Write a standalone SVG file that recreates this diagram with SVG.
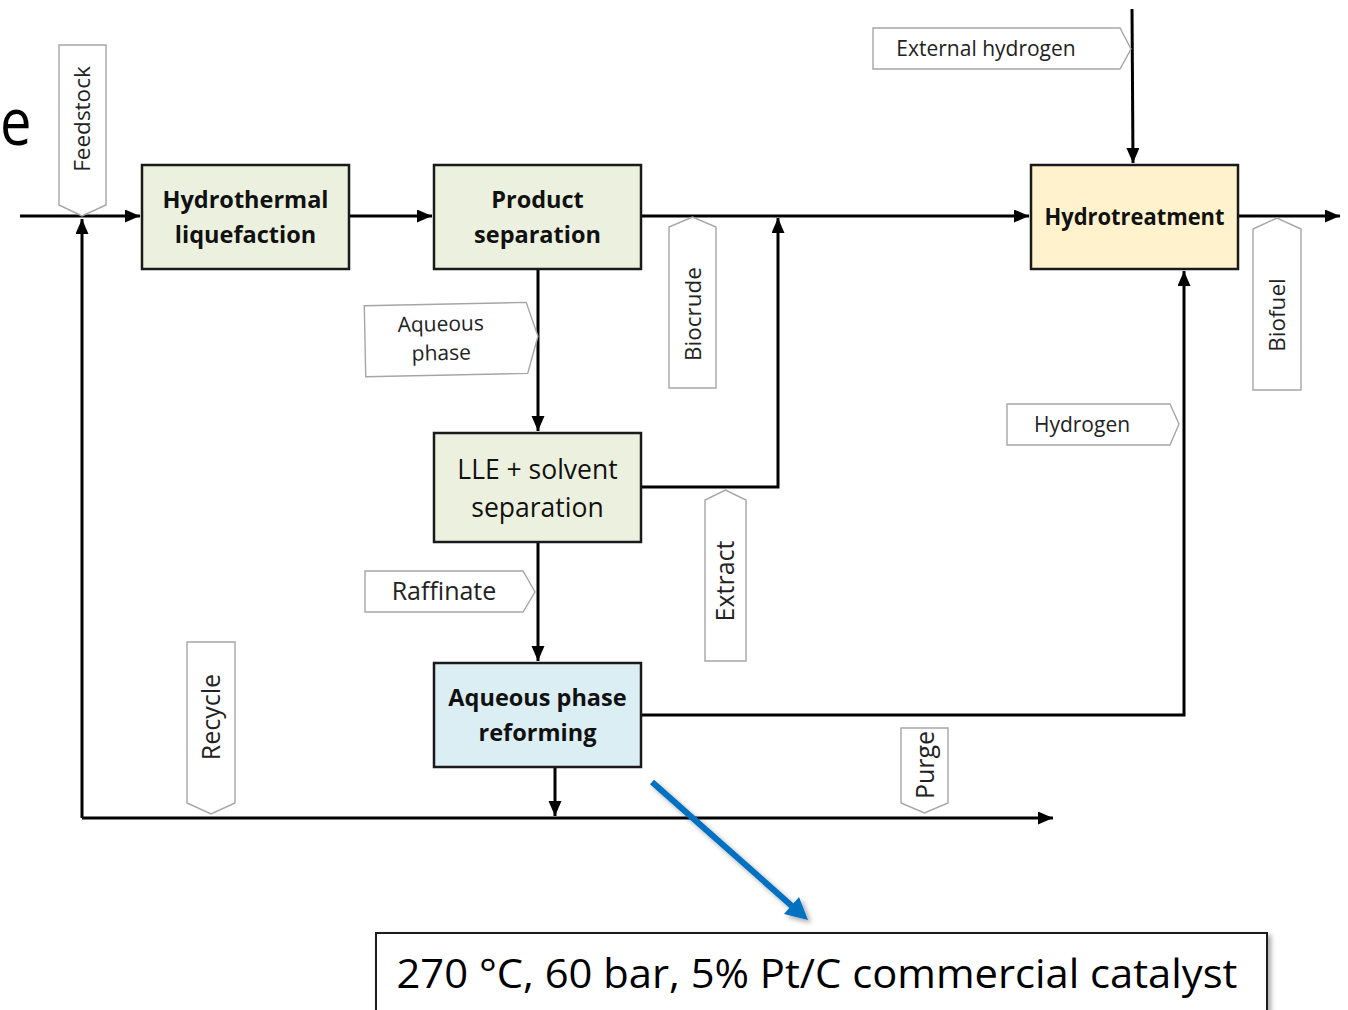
<svg xmlns="http://www.w3.org/2000/svg" width="1348" height="1010" viewBox="0 0 1348 1010">
<defs>
<style>
.box{stroke:#1a1a1a;stroke-width:2.5}
.green{fill:#ebf1de}
.yellow{fill:#fff2cc}
.blue{fill:#dbeef4}
.bt{font-family:"Open Sans","Noto Sans",sans-serif;font-weight:bold;font-size:23.5px;fill:#111;text-anchor:middle}
.nt{font-family:"Open Sans","Noto Sans",sans-serif;font-size:26.5px;fill:#111;text-anchor:middle}
.tag{fill:#fff;stroke:#a6a6a6;stroke-width:1.4}
.tt{font-family:"Open Sans","Noto Sans",sans-serif;font-size:21px;fill:#222;text-anchor:middle}
.tv{font-family:"Open Sans","Noto Sans",sans-serif;font-size:22.5px;fill:#222;text-anchor:middle}
.tl{font-family:"Open Sans","Noto Sans",sans-serif;font-size:25px;fill:#222;text-anchor:middle}
.con{fill:none;stroke:#000;stroke-width:3}
</style>
<marker id="ah" markerUnits="userSpaceOnUse" markerWidth="16" markerHeight="14" refX="15" refY="6.5" orient="auto">
<path d="M0,0 L15,6.5 L0,13 Z" fill="#000"/>
</marker>
<filter id="sh" x="-10%" y="-10%" width="130%" height="140%">
<feDropShadow dx="3" dy="3" stdDeviation="2.5" flood-color="#000" flood-opacity="0.35"/>
</filter>
</defs>
<rect width="1348" height="1010" fill="#fff"/>

<text x="0" y="145" font-family="Open Sans, Noto Sans, sans-serif" font-size="66" fill="#000" transform="scale(0.85,1)">e</text>

<g id="connectors">
<polyline class="con" points="20,216 140,216" marker-end="url(#ah)"/>
<polyline class="con" points="349,216 432,216" marker-end="url(#ah)"/>
<polyline class="con" points="641,216 1029,216" marker-end="url(#ah)"/>
<polyline class="con" points="1238,216 1340,216" marker-end="url(#ah)"/>
<polyline class="con" points="538,269 538,431" marker-end="url(#ah)"/>
<polyline class="con" points="641,487 778,487 778,218" marker-end="url(#ah)"/>
<polyline class="con" points="538,542 538,661" marker-end="url(#ah)"/>
<polyline class="con" points="641,715 1184,715 1184,271" marker-end="url(#ah)"/>
<polyline class="con" points="555,767 555,816" marker-end="url(#ah)"/>
<polyline class="con" points="82,818 1053,818" marker-end="url(#ah)"/>
<polyline class="con" points="82,818 82,219" marker-end="url(#ah)"/>
<polyline class="con" points="1132,9 1133,163" marker-end="url(#ah)"/>
</g>

<g id="node-htl">
<rect class="box green" x="142" y="165" width="207" height="104"/>
<text class="bt" x="245.5" y="208">Hydrothermal</text>
<text class="bt" x="245.5" y="243">liquefaction</text>
</g>
<g id="node-ps">
<rect class="box green" x="434" y="165" width="207" height="104"/>
<text class="bt" x="537.5" y="208">Product</text>
<text class="bt" x="537.5" y="243">separation</text>
</g>
<g id="node-ht">
<rect class="box yellow" x="1031" y="165" width="207" height="104"/>
<text class="bt" x="1134.5" y="225" textLength="180" lengthAdjust="spacingAndGlyphs">Hydrotreatment</text>
</g>
<g id="node-lle">
<rect class="box green" x="434" y="433" width="207" height="109"/>
<text class="nt" x="537.5" y="479">LLE + solvent</text>
<text class="nt" x="537.5" y="517">separation</text>
</g>
<g id="node-apr">
<rect class="box blue" x="434" y="663" width="207" height="104"/>
<text class="bt" x="537.5" y="706">Aqueous phase</text>
<text class="bt" x="537.5" y="741">reforming</text>
</g>

<g id="tag-feedstock">
<path class="tag" d="M59,45 H106 V205 L82,216 L59,205 Z"/>
<text class="tv" transform="translate(82,119) rotate(-90)" y="8">Feedstock</text>
</g>
<g id="tag-biocrude">
<path class="tag" d="M669,388 V227 L692.5,217 L716,227 V388 Z"/>
<text class="tv" transform="translate(693,314) rotate(-90)" y="8">Biocrude</text>
</g>
<g id="tag-extract">
<path class="tag" d="M705,661 V500 L725.5,490 L746,500 V661 Z"/>
<text class="tl" transform="translate(725,581) rotate(-90)" y="9">Extract</text>
</g>
<g id="tag-biofuel">
<path class="tag" d="M1253,390 V229 L1277,218 L1301,229 V390 Z"/>
<text class="tv" transform="translate(1277,315) rotate(-90)" y="8">Biofuel</text>
</g>
<g id="tag-recycle">
<path class="tag" d="M187,642 H235 V803 L211,814 L187,803 Z"/>
<text class="tl" transform="translate(211,717) rotate(-90)" y="9">Recycle</text>
</g>
<g id="tag-purge">
<path class="tag" d="M901,728 H948 V803 L924.5,813 L901,803 Z"/>
<text class="tl" transform="translate(925,765) rotate(-90)" y="9">Purge</text>
</g>
<g id="tag-exth2">
<path class="tag" d="M873,28 H1120 L1131,49 L1120,69 H873 Z"/>
<text class="tt" x="986" y="56">External hydrogen</text>
</g>
<g id="tag-h2">
<path class="tag" d="M1007,404 H1170 L1179,424 L1170,445 H1007 Z"/>
<text class="tt" x="1082" y="432">Hydrogen</text>
</g>
<g id="tag-aq" transform="rotate(-1.2 450 340)">
<path class="tag" d="M365,304 H527 L538,338 L527,375 H365 Z"/>
<text class="tt" x="441" y="331">Aqueous</text>
<text class="tt" x="441" y="360">phase</text>
</g>
<g id="tag-raffinate">
<path class="tag" d="M365,571 H523 L535,592 L523,612 H365 Z"/>
<text class="tl" x="444" y="600">Raffinate</text>
</g>

<g id="callout-arrow" filter="url(#sh)">
<line x1="652" y1="782" x2="793" y2="907" stroke="#0070c0" stroke-width="6"/>
<polygon points="808,920 784,914 799,897" fill="#0070c0"/>
</g>
<g id="note">
<rect x="376" y="933" width="891" height="95" fill="#fff" stroke="#1a1a1a" stroke-width="2" filter="url(#sh)"/>
<text x="817" y="988" font-family="Open Sans, Noto Sans, sans-serif" font-size="41" fill="#000" text-anchor="middle" textLength="841" lengthAdjust="spacingAndGlyphs">270 °C, 60 bar, 5% Pt/C commercial catalyst</text>
</g>
</svg>
